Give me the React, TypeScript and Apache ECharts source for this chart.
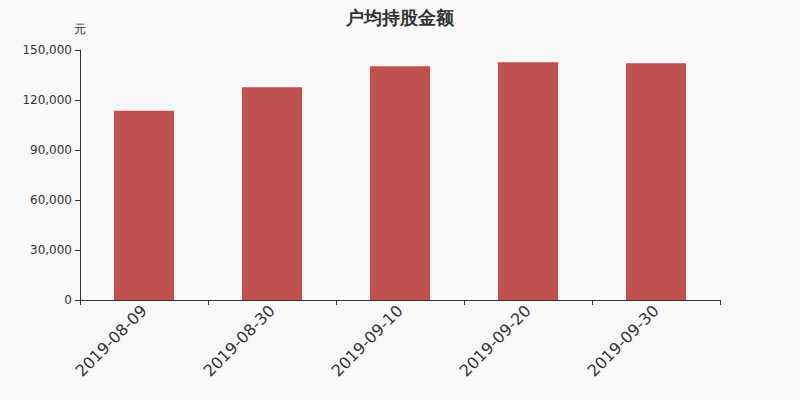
import React, { useEffect, useRef } from 'react';
import * as echarts from 'echarts';

const categories = ['2019-08-09', '2019-08-30', '2019-09-10', '2019-09-20', '2019-09-30'];
const values = [113600, 127600, 140200, 142600, 142000];

const App: React.FC = () => {
  const chartRef = useRef<HTMLDivElement>(null);

  useEffect(() => {
    document.body.style.margin = '0';
    if (!chartRef.current) return;
    const chart = echarts.init(chartRef.current, undefined, { renderer: 'svg' });

    const option: echarts.EChartsOption = {
      animation: false,
      backgroundColor: '#f8f8f8',
      textStyle: { fontFamily: 'DejaVu Sans' },
      title: {
        text: '户均持股金额',
        left: 'center',
        top: 3,
        textStyle: { color: '#333', fontSize: 18, fontWeight: 'bold', fontFamily: 'DejaVu Sans' },
      },
      grid: { left: 80, right: 80, top: 50, bottom: 100 },
      xAxis: {
        type: 'category',
        data: categories,
        axisLine: { lineStyle: { color: '#333' } },
        axisTick: { show: true, alignWithLabel: false },
        axisLabel: { color: '#333', fontSize: 16, rotate: 45, margin: 8 },
      },
      yAxis: {
        type: 'value',
        name: '元',
        nameGap: 15,
        nameTextStyle: { color: '#333', fontSize: 12 },
        min: 0,
        max: 150000,
        interval: 30000,
        axisLine: { show: true, lineStyle: { color: '#333' } },
        axisTick: { show: true },
        axisLabel: {
          color: '#333',
          fontSize: 12,
          formatter: (v: number) => v.toLocaleString('en-US'),
        },
        splitLine: { show: false },
      },
      series: [
        {
          type: 'bar',
          data: values,
          barWidth: '47%',
          itemStyle: { color: '#c0504d' },
        },
      ],
    };

    chart.setOption(option);
    return () => chart.dispose();
  }, []);

  return <div ref={chartRef} style={{ width: 800, height: 400 }} />;
};

export default App;
